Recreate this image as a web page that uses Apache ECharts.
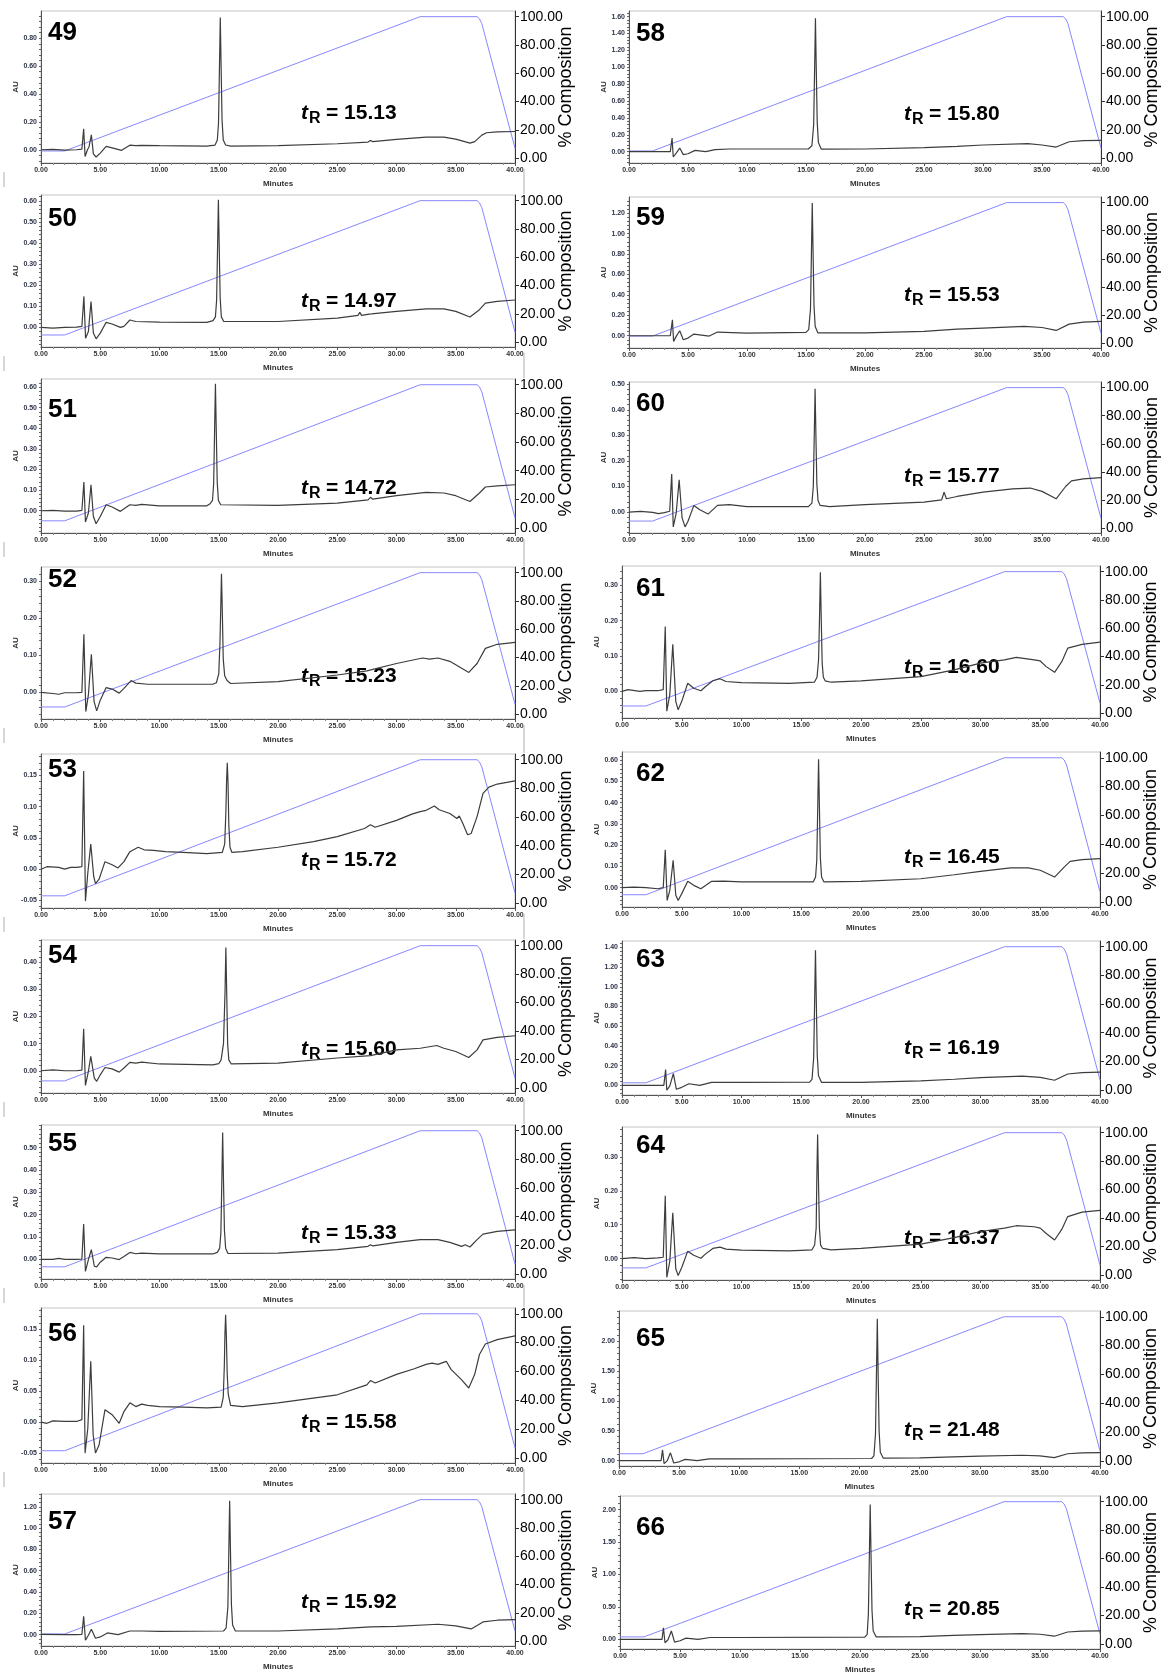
<!DOCTYPE html>
<html>
<head>
<meta charset="utf-8">
<script src="https://cdn.jsdelivr.net/npm/echarts@6/dist/echarts.min.js"></script>
<style>
  html, body { margin: 0; padding: 0; background: #ffffff; }
  #chart { width: 1168px; height: 1675px; }
</style>
</head>
<body>
<div id="chart"></div>
<script>
// HPLC chromatograms, compounds 49-66: absorbance (AU) vs. time (min),
// with the solvent gradient (% composition) on the right-hand axis.

const sampleIds = ['49','50','51','52','53','54','55','56','57','58','59','60','61','62','63','64','65','66'];
const retentionTimes = ['15.13','14.97','14.72','15.23','15.72','15.60','15.33','15.58','15.92','15.80','15.53','15.77','16.60','16.45','16.19','16.37','21.48','20.85'];

// Gradient program: [minutes, % composition]
const gradientProgram = [[0,5],[2,5],[32,100],[36.8,100],[37.0,98.5],[37.2,95],[40,7]];
const compositionTicks = [0,20,40,60,80,100];

// AU axis ranges and labelled ticks for each chromatogram
const auMin = [-0.095,-0.093,-0.108,-0.072,-0.062,-0.082,-0.088,-0.066,-0.107,-0.134,-0.12,-0.082,-0.075,-0.091,-0.098,-0.063,-0.09,-0.147];
const auMax = [0.995,0.628,0.639,0.339,0.184,0.482,0.601,0.184,1.32,1.667,1.359,0.509,0.354,0.639,1.465,0.388,2.5,2.21];
const auTicks = [
  [0,0.2,0.4,0.6,0.8],
  [0,0.1,0.2,0.3,0.4,0.5,0.6],
  [0,0.1,0.2,0.3,0.4,0.5,0.6],
  [0,0.1,0.2,0.3],
  [-0.05,0,0.05,0.1,0.15],
  [0,0.1,0.2,0.3,0.4],
  [0,0.1,0.2,0.3,0.4,0.5],
  [-0.05,0,0.05,0.1,0.15],
  [0,0.2,0.4,0.6,0.8,1.0,1.2],
  [0,0.2,0.4,0.6,0.8,1.0,1.2,1.4,1.6],
  [0,0.2,0.4,0.6,0.8,1.0,1.2],
  [0,0.1,0.2,0.3,0.4,0.5],
  [0,0.1,0.2,0.3],
  [0,0.1,0.2,0.3,0.4,0.5,0.6],
  [0,0.2,0.4,0.6,0.8,1.0,1.2,1.4],
  [0,0.1,0.2,0.3],
  [0,0.5,1.0,1.5,2.0],
  [0,0.5,1.0,1.5,2.0]
];

// Detector traces: [minutes, AU]
const trace49 = [[0,0],[1,0.002],[2,-0.002],[3,0],[3.45,0.004],[3.6,0.15],[3.72,-0.048],[3.92,0],[4.05,0.02],[4.25,0.107],[4.42,-0.03],[4.65,-0.052],[5.0,-0.024],[5.5,0.024],[6.0,0.014],[6.8,-0.004],[7.5,0.033],[8.0,0.029],[8.5,0.031],[10,0.029],[14,0.026],[14.68,0.033],[14.88,0.07],[14.98,0.19],[15.06,0.59],[15.13,0.948],[15.2,0.59],[15.28,0.21],[15.38,0.07],[15.58,0.034],[16,0.026],[20,0.029],[25,0.043],[27.6,0.055],[27.8,0.066],[28,0.058],[30,0.075],[32.5,0.09],[34,0.091],[35,0.076],[36.2,0.048],[36.6,0.058],[37.2,0.105],[37.6,0.122],[38.5,0.128],[40,0.131]];
const trace50 = [[0,0],[1,-0.003],[2,0],[3,0.001],[3.45,0.005],[3.62,0.147],[3.76,-0.051],[4.0,-0.019],[4.22,0.123],[4.42,-0.027],[4.65,-0.054],[5.0,-0.027],[5.5,0.024],[6.0,0.016],[6.7,0],[7.0,0.005],[7.5,0.035],[8,0.028],[10,0.025],[14,0.024],[14.52,0.032],[14.72,0.05],[14.82,0.13],[14.9,0.38],[14.97,0.605],[15.04,0.38],[15.12,0.14],[15.22,0.05],[15.42,0.028],[20,0.028],[25,0.044],[26.75,0.057],[26.9,0.071],[27.05,0.057],[27.7,0.063],[27.8,0.07],[27.9,0.064],[30,0.076],[32.5,0.088],[34,0.088],[35,0.076],[36.2,0.049],[37,0.084],[37.5,0.115],[38.5,0.123],[40,0.13]];
const trace51 = [[0,0],[1,0.002],[2,-0.002],[3,-0.002],[3.45,0.002],[3.62,0.139],[3.75,-0.055],[4.0,-0.011],[4.22,0.126],[4.42,-0.028],[4.65,-0.063],[5.0,-0.028],[5.5,0.029],[6.0,0.018],[6.7,-0.003],[7.5,0.029],[8.0,0.026],[8.5,0.031],[10,0.024],[14,0.024],[14.27,0.034],[14.47,0.05],[14.57,0.13],[14.65,0.39],[14.72,0.616],[14.79,0.39],[14.87,0.14],[14.97,0.05],[15.17,0.029],[20,0.026],[25,0.037],[27.6,0.053],[27.8,0.065],[28,0.056],[30,0.073],[32.5,0.089],[34,0.086],[35,0.073],[36.2,0.045],[37,0.086],[37.5,0.115],[38.5,0.121],[40,0.126]];
const trace52 = [[0,0],[1,-0.003],[1.5,-0.005],[2,-0.001],[3,-0.001],[3.45,0],[3.62,0.157],[3.78,-0.052],[4.0,-0.007],[4.25,0.103],[4.48,-0.025],[4.7,-0.05],[5.0,-0.021],[5.5,0.013],[6.0,0.009],[6.6,-0.002],[7.0,0.011],[7.6,0.032],[8,0.025],[9,0.022],[10,0.022],[14.5,0.022],[14.8,0.026],[15.0,0.05],[15.1,0.13],[15.17,0.23],[15.23,0.321],[15.3,0.22],[15.38,0.09],[15.5,0.045],[15.7,0.032],[16.0,0.024],[20,0.029],[25,0.047],[27.5,0.058],[30,0.078],[32.2,0.093],[32.8,0.09],[33.5,0.093],[34.5,0.084],[35.5,0.065],[36.1,0.054],[36.8,0.078],[37.5,0.119],[38.5,0.13],[40,0.135]];
const trace53 = [[0,0],[0.5,0.004],[1.5,0.003],[2,0],[2.5,0.003],[3,0.003],[3.45,0.004],[3.6,0.157],[3.68,0.047],[3.75,-0.051],[3.95,-0.006],[4.2,0.04],[4.45,-0.012],[4.6,-0.023],[4.9,-0.016],[5.4,0.012],[6.0,0.007],[6.5,0.002],[7.0,0.012],[7.5,0.028],[8.2,0.035],[8.7,0.031],[9.5,0.03],[10.5,0.028],[12,0.027],[14,0.025],[15.3,0.027],[15.5,0.04],[15.6,0.09],[15.66,0.14],[15.72,0.17],[15.78,0.14],[15.85,0.07],[15.95,0.035],[16.1,0.027],[17,0.028],[20,0.035],[23,0.044],[25,0.052],[27.3,0.065],[27.8,0.071],[28.2,0.067],[30,0.078],[31.3,0.088],[32,0.092],[32.5,0.094],[33.2,0.101],[33.6,0.095],[34.5,0.089],[35.1,0.081],[35.3,0.085],[35.6,0.073],[36.0,0.055],[36.3,0.057],[36.8,0.084],[37.3,0.121],[37.8,0.131],[38.5,0.136],[40,0.141]];
const trace54 = [[0,0],[1,0.003],[2,0],[3,0],[3.45,0.002],[3.6,0.155],[3.75,-0.054],[4.0,-0.002],[4.2,0.053],[4.5,-0.027],[4.7,-0.039],[5.0,-0.015],[5.4,0.012],[6.0,0.007],[6.6,-0.005],[7.0,0.01],[7.5,0.031],[8,0.028],[8.5,0.032],[10,0.025],[14.5,0.022],[15.0,0.026],[15.2,0.04],[15.4,0.1],[15.53,0.29],[15.6,0.454],[15.67,0.29],[15.75,0.1],[15.85,0.04],[16.05,0.025],[20,0.028],[25,0.047],[27.8,0.056],[30,0.077],[32,0.083],[33.4,0.093],[34,0.083],[35,0.071],[36.1,0.049],[36.8,0.077],[37.3,0.114],[38.5,0.123],[40,0.129]];
const trace55 = [[0,0],[1,0],[1.5,0.004],[2,0],[3,0],[3.45,0.001],[3.6,0.158],[3.75,-0.054],[4.0,-0.001],[4.25,0.043],[4.5,-0.031],[4.7,-0.034],[5.0,-0.013],[5.5,0.009],[6.0,0.006],[6.6,-0.001],[7.0,0.013],[7.5,0.031],[8,0.025],[8.5,0.028],[10,0.024],[14.5,0.024],[14.88,0.031],[15.08,0.05],[15.18,0.12],[15.26,0.35],[15.33,0.567],[15.4,0.35],[15.48,0.13],[15.58,0.05],[15.78,0.026],[20,0.028],[25,0.043],[27.6,0.058],[27.8,0.065],[28,0.06],[30,0.076],[32,0.088],[33.5,0.088],[34.5,0.076],[35.5,0.058],[35.8,0.065],[36.2,0.055],[36.8,0.088],[37.3,0.113],[38.5,0.125],[40,0.132]];
const trace56 = [[0,0],[0.5,-0.002],[1,0.002],[2,0.001],[3,0.001],[3.45,0.004],[3.6,0.156],[3.72,-0.05],[3.95,-0.01],[4.2,0.098],[4.4,-0.02],[4.6,-0.05],[4.9,-0.037],[5.4,0.02],[6.0,0.012],[6.6,-0.002],[7.0,0.017],[7.5,0.031],[8,0.025],[8.5,0.029],[9,0.027],[10,0.025],[12,0.024],[14,0.023],[15.2,0.024],[15.38,0.04],[15.47,0.09],[15.52,0.14],[15.58,0.173],[15.64,0.14],[15.71,0.08],[15.8,0.045],[16.0,0.027],[17,0.025],[20,0.031],[25,0.044],[27.5,0.06],[27.8,0.067],[28.2,0.063],[30,0.077],[31.5,0.086],[32.5,0.093],[33,0.095],[33.5,0.093],[34.2,0.098],[34.6,0.085],[35.5,0.068],[36.1,0.055],[36.6,0.077],[37,0.109],[37.5,0.126],[38.5,0.133],[40,0.139]];
const trace57 = [[0,0.002],[2,0],[3,0],[3.45,0.002],[3.6,0.172],[3.75,-0.053],[4.0,-0.006],[4.25,0.05],[4.6,-0.034],[5.0,-0.022],[5.6,0.016],[6.5,0],[7.5,0.034],[8.5,0.034],[10,0.031],[15.4,0.034],[15.62,0.06],[15.77,0.26],[15.85,0.78],[15.92,1.257],[15.99,0.78],[16.07,0.28],[16.17,0.09],[16.4,0.034],[20,0.034],[25,0.053],[27.8,0.072],[30,0.078],[33.5,0.097],[35,0.082],[36.3,0.053],[37.3,0.119],[38.5,0.135],[40,0.141]];
const trace58 = [[0,0],[2,0],[3,0],[3.5,0],[3.65,0.162],[3.75,-0.063],[4.0,-0.016],[4.3,0.043],[4.6,-0.035],[5.0,-0.024],[5.6,0.016],[6.5,0],[7.3,0.024],[8.5,0.032],[10,0.032],[15.2,0.032],[15.5,0.07],[15.65,0.32],[15.73,0.98],[15.8,1.58],[15.87,0.98],[15.95,0.35],[16.05,0.11],[16.3,0.03],[20,0.032],[25,0.047],[27.8,0.063],[30,0.079],[33.8,0.095],[35,0.079],[36.2,0.055],[37.3,0.118],[38.5,0.13],[40,0.134]];
const trace59 = [[0,0],[2,0],[3.5,0],[3.68,0.156],[3.78,-0.055],[4.0,-0.006],[4.3,0.049],[4.6,-0.039],[5.0,-0.023],[5.5,0.016],[6.8,-0.003],[7.5,0.036],[10,0.026],[15.0,0.033],[15.23,0.06],[15.38,0.26],[15.46,0.81],[15.53,1.3],[15.6,0.81],[15.68,0.29],[15.78,0.09],[16.0,0.029],[20,0.029],[25,0.042],[27.8,0.065],[30,0.075],[33.5,0.091],[35,0.081],[36.2,0.052],[37.3,0.114],[38.5,0.133],[40,0.14]];
const trace60 = [[0,0],[1,0.003],[2,-0.001],[2.5,-0.006],[3,-0.002],[3.45,0.003],[3.62,0.149],[3.75,-0.058],[4.0,-0.004],[4.25,0.126],[4.5,-0.023],[4.75,-0.058],[5.0,-0.036],[5.5,0.026],[6.0,0.009],[6.7,-0.008],[7.5,0.026],[8.5,0.029],[10,0.021],[15.2,0.021],[15.5,0.035],[15.62,0.1],[15.7,0.3],[15.77,0.483],[15.84,0.3],[15.92,0.11],[16.02,0.045],[16.2,0.026],[17,0.021],[20,0.029],[25,0.039],[26.5,0.048],[26.7,0.078],[26.9,0.052],[27.8,0.061],[30,0.078],[32.5,0.091],[34,0.094],[35,0.081],[36.2,0.052],[37,0.1],[37.5,0.122],[38.5,0.13],[40,0.135]];
const trace61 = [[0,0],[0.5,0.005],[1.5,0],[2,0.002],[3,0.002],[3.45,0.005],[3.62,0.183],[3.75,-0.056],[4.0,-0.009],[4.25,0.133],[4.5,-0.028],[4.7,-0.052],[5.0,-0.028],[5.5,0.023],[6.0,0.009],[6.6,0.002],[7.0,0.014],[7.6,0.03],[8.2,0.036],[8.7,0.028],[10,0.025],[14,0.023],[16.1,0.026],[16.32,0.04],[16.45,0.09],[16.53,0.21],[16.6,0.336],[16.67,0.21],[16.75,0.08],[16.85,0.04],[17.0,0.03],[17.5,0.026],[20,0.03],[25,0.042],[27.8,0.061],[30,0.08],[32,0.089],[33,0.096],[34.5,0.089],[35,0.086],[35.5,0.07],[36.2,0.054],[36.8,0.084],[37.3,0.122],[38.5,0.133],[40,0.139]];
const trace62 = [[0,0],[1,0.003],[2,0],[3,-0.005],[3.45,0],[3.62,0.179],[3.78,-0.06],[4.0,-0.013],[4.28,0.129],[4.5,-0.036],[4.7,-0.06],[5.0,-0.028],[5.5,0.03],[6.0,0.011],[6.6,-0.005],[7.5,0.03],[8.5,0.031],[10,0.027],[16.0,0.027],[16.2,0.05],[16.3,0.13],[16.38,0.38],[16.45,0.605],[16.52,0.38],[16.6,0.14],[16.7,0.05],[16.9,0.027],[20,0.03],[25,0.042],[27.8,0.061],[30,0.077],[32.5,0.093],[34,0.093],[35,0.082],[36.2,0.05],[37,0.097],[37.5,0.124],[38.5,0.132],[40,0.137]];
const trace63 = [[0,0],[2,0],[3.5,0],[3.65,0.16],[3.75,-0.05],[4.0,-0.005],[4.3,0.12],[4.55,-0.04],[5.0,-0.02],[5.6,0.016],[6.5,0],[7.5,0.03],[10,0.03],[15.7,0.032],[15.9,0.06],[16.04,0.28],[16.12,0.85],[16.19,1.37],[16.26,0.85],[16.34,0.3],[16.44,0.1],[16.7,0.03],[20,0.03],[25,0.045],[27.8,0.062],[30,0.078],[33.5,0.093],[35,0.08],[36.2,0.052],[37.3,0.115],[38.5,0.13],[40,0.135]];
const trace64 = [[0,0],[1,0.003],[2,0],[3,0.002],[3.45,0.004],[3.62,0.185],[3.75,-0.055],[4.0,-0.008],[4.25,0.135],[4.5,-0.03],[4.7,-0.05],[5.0,-0.026],[5.5,0.022],[6.0,0.01],[6.6,0.001],[7.0,0.014],[7.6,0.03],[8.2,0.034],[8.7,0.028],[10,0.025],[14,0.023],[15.9,0.026],[16.12,0.04],[16.25,0.09],[16.3,0.23],[16.37,0.366],[16.44,0.23],[16.52,0.09],[16.62,0.04],[16.8,0.03],[17.5,0.026],[20,0.03],[25,0.043],[27.8,0.062],[30,0.08],[32,0.09],[33,0.097],[34.5,0.094],[35,0.09],[35.5,0.074],[36.2,0.055],[36.8,0.086],[37.3,0.124],[38.5,0.137],[40,0.142]];
const trace65 = [[0,0],[2,0],[3.5,0],[3.62,0.18],[3.75,-0.05],[4.0,-0.005],[4.28,0.13],[4.55,-0.04],[5.0,-0.02],[5.5,0.02],[6.5,0],[7.5,0.03],[10,0.03],[21.0,0.035],[21.2,0.08],[21.33,0.45],[21.41,1.45],[21.48,2.37],[21.55,1.45],[21.63,0.5],[21.73,0.14],[21.98,0.04],[25,0.045],[27.8,0.062],[30,0.075],[33.5,0.09],[35,0.08],[36.2,0.05],[37.3,0.115],[38.5,0.128],[40,0.132]];
const trace66 = [[0,0],[2,0],[3.5,0],[3.62,0.18],[3.75,-0.05],[4.0,-0.005],[4.28,0.13],[4.55,-0.04],[5.0,-0.02],[5.5,0.02],[6.5,0],[7.5,0.03],[10,0.03],[20.4,0.035],[20.6,0.08],[20.7,0.4],[20.78,1.29],[20.85,2.08],[20.92,1.29],[21.0,0.45],[21.1,0.13],[21.35,0.04],[25,0.045],[27.8,0.062],[30,0.075],[33.5,0.09],[35,0.08],[36.2,0.05],[37.3,0.115],[38.5,0.128],[40,0.132]];

const traceList = [trace49,trace50,trace51,trace52,trace53,trace54,trace55,trace56,trace57,
                   trace58,trace59,trace60,trace61,trace62,trace63,trace64,trace65,trace66];

// Panel layout (pixels)
const panelTop    = [11,195,379,567,754,940,1125,1308,1494, 11,197,382,566,752,941,1127,1311,1496];
const panelHeight = [152,152,154,152,154,153,154,155,152, 152,151,151,152,155,154,153,155,155];
const panelLeft   = [41,41,41,41,41,41,41,41,41, 629,629,629,622,622,622,622,619,620];
const panelRight  = [515,515,515,515,515,515,515,515,515, 1101,1101,1101,1100,1100,1100,1100,1100,1100];
const idX = [48, 636];
const idDy = [21.5,24,31,13,16,16,19,26,28, 22.5,20.5,22,23,22,19,19,28,32];
const rtX = [301, 904];
const rtDy = [102,106,109,109,106,109,108,114,108, 103,98,94,101,105,107,111,119,113];

const FONT = '"Liberation Sans", Arial, Helvetica, sans-serif';
const TRACE_COLOR = '#3d3d3d';
const GRADIENT_COLOR = '#8787ff';

function minorTicks(ticks, lo, hi) {
  const step = (ticks[1] - ticks[0]) / 5;
  const out = [];
  for (let k = -60; k <= 200; k++) {
    const v = +(ticks[0] + k * step).toFixed(5);
    if (v >= lo - 1e-9 && v <= hi + 1e-9) out.push(v);
  }
  return out;
}

const grids = [], xAxes = [], yAxes = [], series = [], graphics = [];

sampleIds.forEach((id, i) => {
  const col = i < 9 ? 0 : 1;
  const left = panelLeft[i], top = panelTop[i];
  const width = panelRight[i] - left, height = panelHeight[i];

  grids.push({
    left: left, top: top, width: width, height: height,
    show: true, borderColor: '#c4c4c4', borderWidth: 1, backgroundColor: 'transparent'
  });

  xAxes.push({
    type: 'value', gridIndex: i, min: 0, max: 40, interval: 5,
    name: 'Minutes', nameLocation: 'middle', nameGap: 17, nameMoveOverlap: false,
    nameTextStyle: { fontSize: 8, fontWeight: 'bold', color: '#333', fontFamily: FONT },
    axisLine: { show: true, onZero: false, lineStyle: { color: '#555', width: 1 } },
    axisTick: { show: true, length: 3, lineStyle: { color: '#555' } },
    minorTick: { show: true, splitNumber: 5, length: 2, lineStyle: { color: '#888' } },
    axisLabel: { fontSize: 7, fontWeight: 'bold', color: '#333', margin: 4, fontFamily: FONT,
                 formatter: v => v.toFixed(2) },
    splitLine: { show: false }, minorSplitLine: { show: false }
  });

  yAxes.push({
    type: 'value', gridIndex: i, position: 'left', min: auMin[i], max: auMax[i],
    name: 'AU', nameLocation: 'middle', nameRotate: 90, nameGap: 21, nameMoveOverlap: false,
    nameTextStyle: { fontSize: 8, fontWeight: 'bold', color: '#333', fontFamily: FONT },
    axisLine: { show: true, onZero: false, lineStyle: { color: '#555', width: 1 } },
    axisTick: { show: true, length: 2, customValues: minorTicks(auTicks[i], auMin[i], auMax[i]),
                lineStyle: { color: '#666' } },
    axisLabel: { show: true, customValues: auTicks[i], fontSize: 7, fontWeight: 'bold', color: '#2e3448',
                 margin: 4, fontFamily: FONT, formatter: v => v.toFixed(2) },
    splitLine: { show: false }
  });

  yAxes.push({
    type: 'value', gridIndex: i, position: 'right', min: -3.5, max: 104,
    name: '% Composition', nameLocation: 'middle', nameRotate: 90, nameGap: 42, nameMoveOverlap: false,
    nameTextStyle: { fontSize: 18, color: '#000', fontFamily: FONT },
    axisLine: { show: true, onZero: false, lineStyle: { color: '#333', width: 1 } },
    axisTick: { show: true, length: 4, customValues: compositionTicks, lineStyle: { color: '#333' } },
    axisLabel: { show: true, customValues: compositionTicks, fontSize: 14, color: '#000',
                 margin: 5, fontFamily: FONT, formatter: v => v.toFixed(2) },
    splitLine: { show: false }
  });

  series.push({
    type: 'line', xAxisIndex: i, yAxisIndex: 2 * i + 1, data: gradientProgram,
    showSymbol: false, symbol: 'none', silent: true, z: 2,
    lineStyle: { color: GRADIENT_COLOR, width: 1 }
  });
  series.push({
    type: 'line', xAxisIndex: i, yAxisIndex: 2 * i, data: traceList[i],
    showSymbol: false, symbol: 'none', silent: true, z: 3,
    lineStyle: { color: TRACE_COLOR, width: 1.2 }
  });

  // compound number
  graphics.push({
    type: 'text', x: idX[col], y: top + idDy[i], z: 10,
    style: { text: id, fontSize: 26, fontWeight: 'bold', fontFamily: FONT, fill: '#000',
             align: 'left', verticalAlign: 'middle' }
  });

  // retention time label: t with subscript R
  graphics.push({
    type: 'group', x: rtX[col], y: top + rtDy[i], z: 10,
    children: [
      { type: 'text', x: 0, y: 0,
        style: { text: 't', fontSize: 21, fontWeight: 'bold', fontStyle: 'italic', fontFamily: FONT,
                 fill: '#000', align: 'left', verticalAlign: 'middle' } },
      { type: 'text', x: 8, y: 6,
        style: { text: 'R', fontSize: 16, fontWeight: 'bold', fontFamily: FONT,
                 fill: '#000', align: 'left', verticalAlign: 'middle' } },
      { type: 'text', x: 25, y: 0,
        style: { text: '= ' + retentionTimes[i], fontSize: 21, fontWeight: 'bold', fontFamily: FONT,
                 fill: '#000', align: 'left', verticalAlign: 'middle' } }
    ]
  });

  // thin panel-edge rules between stacked left-column panels
  if (col === 0 && i < 8) {
    graphics.push({
      type: 'line', z: 1, silent: true,
      shape: { x1: 524, y1: top + height + 6, x2: 524, y2: panelTop[i + 1] - 1 },
      style: { stroke: '#b0b0b0', lineWidth: 1 }
    });
    graphics.push({
      type: 'line', z: 1, silent: true,
      shape: { x1: 4, y1: top + height + 9, x2: 4, y2: top + height + 24 },
      style: { stroke: '#b0b0b0', lineWidth: 1 }
    });
  }
});

const chart = echarts.init(document.getElementById('chart'), null, { renderer: 'canvas' });
chart.setOption({
  backgroundColor: '#ffffff',
  animation: false,
  textStyle: { fontFamily: FONT },
  grid: grids,
  xAxis: xAxes,
  yAxis: yAxes,
  series: series,
  graphic: graphics
});
</script>
</body>
</html>
